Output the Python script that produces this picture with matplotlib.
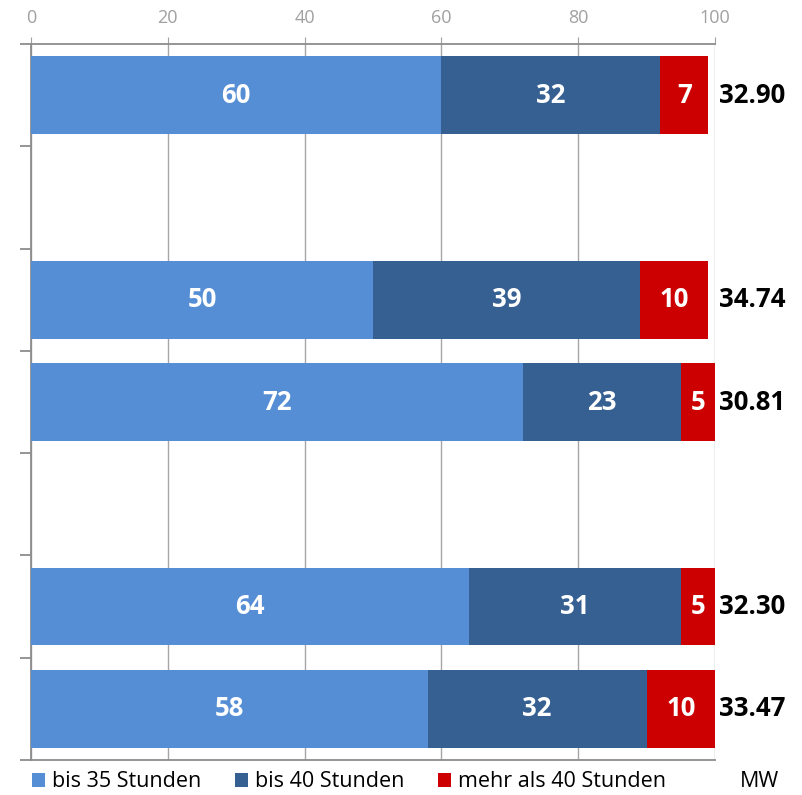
import matplotlib
matplotlib.use("Agg")
import matplotlib.pyplot as plt
from matplotlib.patches import Patch
import numpy as np

plt.rcParams["font.family"] = ["Open Sans", "DejaVu Sans"]

# rows from top to bottom; empty rows are spacer categories
categories = ["", "", "", "", "", "", ""]
bis35 = [60, 0, 50, 72, 0, 64, 58]
bis40 = [32, 0, 39, 23, 0, 31, 32]
mehr40 = [7, 0, 10, 5, 0, 5, 10]
mw = ["32.90", "", "34.74", "30.81", "", "32.30", "33.47"]
series_names = ["bis 35 Stunden", "bis 40 Stunden", "mehr als 40 Stunden"]
colors = ["#558ed5", "#366092", "#cc0000"]

fig = plt.figure(figsize=(8.03, 7.95), dpi=100)
ax = fig.add_axes([0.0386, 0.044, 0.8518, 0.9006])

y = np.arange(len(categories))
h = 0.76
left = np.zeros(len(categories))
for vals, col in zip([bis35, bis40, mehr40], colors):
    vals = np.array(vals, dtype=float)
    ax.barh(y, vals, h, left=left, color=col, zorder=3)
    for yy, v, l in zip(y, vals, left):
        if v > 0:
            ax.text(l + v / 2, yy, str(int(v)), ha="center", va="center",
                    color="white", fontsize=18.5, fontweight="bold", zorder=4)
    left = left + vals

for yy, m in zip(y, mw):
    if m:
        ax.text(100.6, yy, m, ha="left", va="center", color="black",
                fontsize=18.5, fontweight="bold", clip_on=False)

ax.set_xlim(0, 100)
ax.set_ylim(len(categories) - 0.5, -0.5)
ax.set_xticks(np.arange(0, 101, 20))
ax.xaxis.tick_top()
ax.tick_params(axis="x", colors="#a0a0a0", labelsize=13, length=5, direction="out", pad=7)
ax.set_yticks(np.arange(-0.5, len(categories), 1.0))
ax.set_yticklabels([])
ax.tick_params(axis="y", colors="#8c8c8c", length=8, width=1.3)
ax.grid(axis="x", color="#a6a6a6", linewidth=1, zorder=0)
for s in ["top", "left", "bottom"]:
    ax.spines[s].set_color("#8c8c8c")
    ax.spines[s].set_linewidth(1.3)
ax.spines["right"].set_visible(False)

handles = [Patch(facecolor=c, label=n) for c, n in zip(colors, series_names)]
fig.legend(handles=handles, loc="lower left", bbox_to_anchor=(0.016, -0.021), ncol=3,
           frameon=False, fontsize=15.5, handlelength=0.6, handleheight=0.6,
           handletextpad=0.3, columnspacing=1.6)
fig.text(0.921, 0.017, "MW", fontsize=15.5, ha="left", va="center")

fig.savefig("out.png", dpi=100)
